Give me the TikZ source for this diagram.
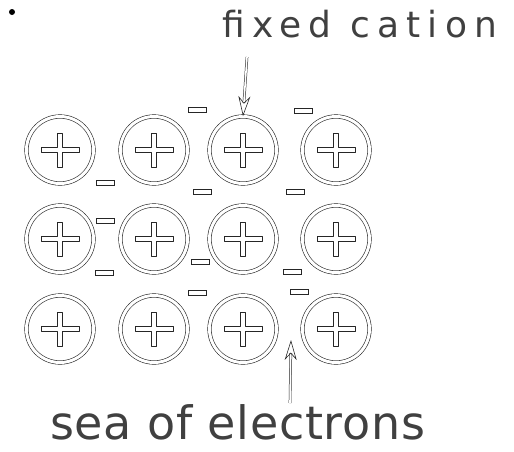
\documentclass[tikz,border=0pt]{standalone}
\usepackage{fontspec}
\setmainfont{DejaVu Sans}
\usetikzlibrary{arrows.meta}
\tikzset{
  cation/.style={circle, draw=black!85, double=white, double distance=3pt, line width=0.6pt, minimum size=67pt, inner sep=0pt},
  plusline/.style={draw=black!85, line width=0.6pt, line join=round},
  electron/.style={rectangle, draw=black!85, line width=0.6pt, minimum width=18pt, minimum height=5pt, inner sep=0pt},
  labeltext/.style={inner sep=0pt, anchor=base west, text=black!75, text depth=0pt},
  pointer/.style={draw=black!85, double=white, double distance=1.6pt, line width=0.5pt, -{Stealth[open, length=20pt, width=12pt, line width=0.6pt]}},
}
\begin{document}
\begin{tikzpicture}[x=1pt, y=-1pt]
\useasboundingbox (0,0) rectangle (514,451);
\node[circle, fill=black, inner sep=0pt, minimum size=6pt] (dot) at (12,12) {};
% cations
\foreach \r/\yy in {1/150, 2/239, 3/329} {
  \foreach \c/\xx in {1/60, 2/154, 3/243, 4/336} {
    \node[cation] (c\r\c) at (\xx,\yy) {};
    \draw[plusline, shift={(c\r\c.center)}]
      (-19,-2.4) -- (-2.4,-2.4) -- (-2.4,-17) -- (2.4,-17) -- (2.4,-2.4) -- (19,-2.4)
      -- (19,2.4) -- (2.4,2.4) -- (2.4,17) -- (-2.4,17) -- (-2.4,2.4) -- (-19,2.4) -- cycle;
  }
}
% electrons
\node[electron] (e1) at (197,110) {};
\node[electron] (e2) at (303,111) {};
\node[electron] (e3) at (105,183) {};
\node[electron] (e4) at (202,192) {};
\node[electron] (e5) at (295,192) {};
\node[electron] (e6) at (105,221) {};
\node[electron] (e7) at (104,273) {};
\node[electron] (e8) at (200,262) {};
\node[electron] (e9) at (292,272) {};
\node[electron] (e10) at (197,293) {};
\node[electron] (e11) at (299,292) {};
% labels
\node[labeltext, font={\addfontfeatures{LetterSpace=20}\fontsize{36}{40}\selectfont}] (fixed) at (222,37) {fixed cation};
\node[labeltext, font={\addfontfeatures{LetterSpace=1.5}\fontsize{46}{50}\selectfont}] (sea) at (50,439) {sea of electrons};
\coordinate (fstart) at (247,57);
\coordinate (sstart) at (290,403);
\coordinate (stip) at (291,340);
\draw[pointer] (fstart) -- (c13.north);
\draw[pointer] (sstart) -- (stip);
\end{tikzpicture}
\end{document}
